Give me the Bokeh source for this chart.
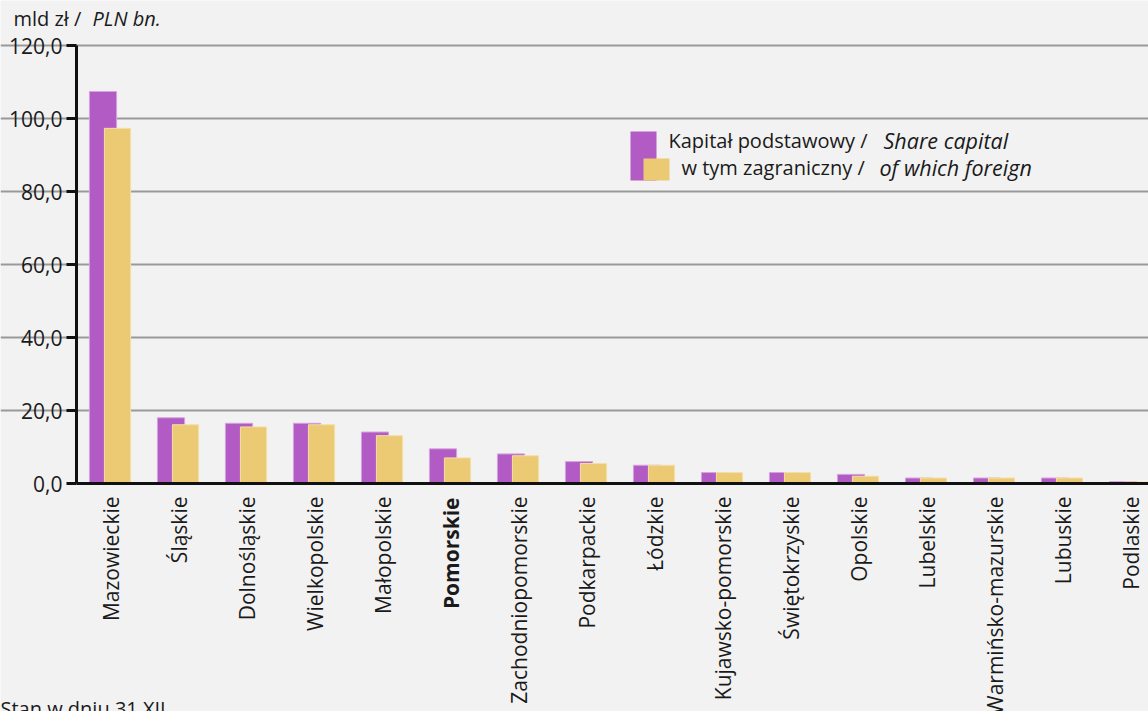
import math
from bokeh.plotting import figure
from bokeh.models import (ColumnDataSource, Range1d, FixedTicker, Label,
                          BoxAnnotation)
from bokeh.transform import dodge
from bokeh.embed import file_html
from bokeh.resources import INLINE

# ---- data ----
regions = ["Mazowieckie", "Śląskie", "Dolnośląskie", "Wielkopolskie", "Małopolskie",
           "Pomorskie", "Zachodniopomorskie", "Podkarpackie", "Łódzkie",
           "Kujawsko-pomorskie", "Świętokrzyskie", "Opolskie", "Lubelskie",
           "Warmińsko-mazurskie", "Lubuskie", "Podlaskie"]
share_capital = [107.4, 18.0, 16.5, 16.5, 14.1, 9.5, 8.1, 6.0, 5.0, 3.0, 3.0, 2.5, 1.5, 1.5, 1.5, 0.5]
foreign_capital = [97.3, 16.1, 15.5, 16.1, 13.1, 7.0, 7.6, 5.5, 5.0, 3.0, 3.0, 2.0, 1.5, 1.5, 1.5, 0.4]
y_ticks = [0, 20, 40, 60, 80, 100, 120]
y_tick_labels = ["0,0", "20,0", "40,0", "60,0", "80,0", "100,0", "120,0"]
highlight = "Pomorskie"
series_names = [("Kapitał podstawowy / ", "Share capital"),
                ("w tym zagraniczny / ", "of which foreign")]
unit_label = ("mld zł / ", "PLN bn.")
footnote = "Stan w dniu 31 XII"

FONT = "Open Sans"
PURPLE = "#B35BC4"
YELLOW = "#ECCA74"
BG = "#F2F2F2"
TXT = "#1a1a1a"

W, H = 1148, 711
X0, Y0 = 76, 483          # pixel position of data origin
PX_X, PX_Y = 68.0, 3.65   # pixels per data unit
x_end = (W - X0) / PX_X
BASE_SHIFT = 8            # correction for the baseline of svg text labels

xpos = [i + 0.5 for i in range(len(regions))]
src = ColumnDataSource(dict(x=xpos, share=share_capital, foreign=foreign_capital))

p = figure(width=W, height=H,
           x_range=Range1d(-X0 / PX_X, x_end),
           y_range=Range1d(-(H - Y0) / PX_Y, Y0 / PX_Y),
           output_backend="svg", toolbar_location=None,
           min_border_left=0, min_border_right=0, min_border_top=0,
           min_border_bottom=0)
p.background_fill_color = BG
p.border_fill_color = BG
p.outline_line_color = None

p.vbar(x=dodge("x", -0.11, range=p.x_range), top="share", width=0.40, source=src,
       fill_color=PURPLE, line_color="#D6A2DF", line_width=1)
p.vbar(x=dodge("x", 0.103, range=p.x_range), top="foreign", width=0.385, source=src,
       fill_color=YELLOW, line_color="#F4DFA8", line_width=1)

# grid
p.xgrid.grid_line_color = None
p.ygrid.ticker = FixedTicker(ticks=y_ticks[1:])
p.ygrid.grid_line_color = "#999999"
p.ygrid.grid_line_width = 2
p.ygrid.bounds = (0, x_end)

# y axis
ya = p.yaxis[0]
ya.fixed_location = 0
ya.bounds = (0, 120)
ya.ticker = FixedTicker(ticks=y_ticks)
ya.major_label_overrides = {t: l for t, l in zip(y_ticks, y_tick_labels)}
ya.axis_line_width = 3
ya.axis_line_color = "#111111"
ya.major_tick_line_width = 3
ya.major_tick_line_color = "#111111"
ya.major_tick_out = 10
ya.major_tick_in = 0
ya.minor_tick_line_color = None
ya.major_label_text_font = FONT
ya.major_label_text_font_size = "21px"
ya.major_label_text_color = TXT
ya.major_label_standoff = 4

# x axis
xa = p.xaxis[0]
xa.fixed_location = 0
xa.bounds = (0, x_end)
xa.ticker = FixedTicker(ticks=xpos)
xa.major_label_overrides = {x: ("" if r == highlight else r) for x, r in zip(xpos, regions)}
xa.major_label_orientation = math.pi / 2
xa.axis_line_width = 3
xa.axis_line_color = "#111111"
xa.major_tick_line_color = None
xa.major_tick_out = 0
xa.major_tick_in = 0
xa.minor_tick_line_color = None
xa.major_label_text_font = FONT
xa.major_label_text_font_size = "21px"
xa.major_label_text_color = TXT
xa.major_label_standoff = 13


def dx(px):
    return (px - X0) / PX_X


def dy(py):
    return (Y0 - py) / PX_Y


def dyb(py):
    """data y for a text whose alphabetic baseline should sit at pixel py"""
    return dy(py - BASE_SHIFT)


# bold highlighted region label
hi = regions.index(highlight)
p.add_layout(Label(x=xpos[hi], y=dy(497), text=highlight, angle=math.pi / 2,
                   text_align="right", text_baseline="middle",
                   text_font=FONT, text_font_size="21px", text_font_style="bold",
                   text_color=TXT))

# unit label (top left)
p.add_layout(Label(x=dx(13), y=dyb(26), text=unit_label[0], text_font=FONT,
                   text_font_size="20px", text_color=TXT, text_baseline="alphabetic"))
p.add_layout(Label(x=dx(92), y=dyb(26), text=unit_label[1], text_font=FONT,
                   text_font_size="20px", text_font_style="italic", text_color=TXT,
                   text_baseline="alphabetic"))

# legend
p.add_layout(BoxAnnotation(left=dx(630), right=dx(656), top=dy(131), bottom=dy(180),
                           fill_color=PURPLE, fill_alpha=1, line_color=None))
p.add_layout(BoxAnnotation(left=dx(643), right=dx(669), top=dy(158), bottom=dy(180),
                           fill_color=YELLOW, fill_alpha=1, line_color=None))
leg = [(668, 883, 148), (681, 879, 175)]
for (norm, ital), (x0, x1, yb) in zip(series_names, leg):
    p.add_layout(Label(x=dx(x0), y=dyb(yb), text=norm, text_font=FONT,
                       text_font_size="20px", text_color=TXT,
                       text_baseline="alphabetic"))
    p.add_layout(Label(x=dx(x1), y=dyb(yb), text=ital, text_font=FONT,
                       text_font_size="21.5px", text_font_style="italic",
                       text_color=TXT, text_baseline="alphabetic"))

# footnote (partly cut at the bottom, as in the source)
p.add_layout(Label(x=dx(0), y=dyb(716), text=footnote, text_font=FONT,
                   text_font_size="20px", text_color=TXT, text_baseline="alphabetic"))

open("out.html", "w").write(file_html(p, INLINE))
